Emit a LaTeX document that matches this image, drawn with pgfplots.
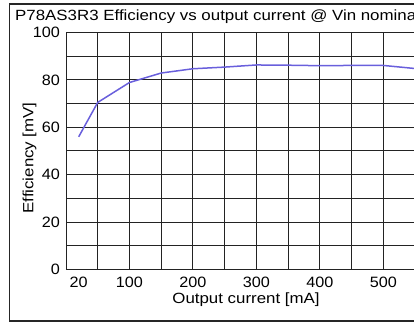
\documentclass[border=0pt]{standalone}
\usepackage{pgfplots}
\pgfplotsset{compat=1.18}
\usepackage{fontspec}
\setmainfont[FakeStretch=1.08]{Liberation Sans}
\newfontfamily\widefont[FakeStretch=1.14]{Liberation Sans}
\definecolor{curve}{RGB}{105,95,220}
\definecolor{gridc}{RGB}{35,35,35}
\begin{document}
\begin{tikzpicture}[x=1pt,y=1pt]
\useasboundingbox (0,0) rectangle (414,323);
\clip (0,0) rectangle (414,323);
\draw[line width=1.8pt, black!85] (9.5,2.3) rectangle (440,319);
\begin{axis}[
  scale only axis,
  at={(66pt,53.5pt)}, anchor=south west,
  width=355.4pt, height=237pt,
  xmin=0, xmax=560, ymin=0, ymax=100,
  xtick={20,100,200,300,400,500},
  ytick={0,20,40,60,80,100},
  minor xtick={50,100,...,550},
  minor ytick={10,30,50,70,90},
  xmajorgrids=false, xminorgrids=true,
  ymajorgrids=true, yminorgrids=true,
  major tick length=0pt, minor tick length=0pt,
  axis line style={gridc, line width=1pt},
  major grid style={gridc, line width=1pt},
  minor grid style={gridc, line width=1pt},
  /pgf/number format/assume math mode=true,
  tick label style={font=\fontsize{15}{17}\selectfont},
  yticklabel style={anchor=east, inner sep=0pt, xshift=-6pt},
  xticklabel style={anchor=north, inner sep=0pt, yshift=-7.5pt},
  xlabel={Output current [mA]},
  xlabel style={at={(axis description cs:0.5065,-0.1426)}, anchor=base, inner sep=0pt, font=\widefont\fontsize{14.8}{17}\selectfont},
  ylabel={Efficiency [mV]},
  ylabel style={at={(axis description cs:-0.092,0.4705)}, anchor=base, inner sep=0pt, font=\widefont\fontsize{14.8}{17}\selectfont},
  title={P78AS3R3 Efficiency vs output current @ Vin nominal},
  title style={at={(axis description cs:-0.1435,1.0245)}, anchor=base west, inner sep=0pt, font=\widefont\fontsize{14.8}{17}\selectfont},
  clip=false,
]
\addplot[curve, line width=1.5pt] coordinates {
(20,56.0) (50,70.5) (100,78.9) (150,82.9) (200,84.7) (250,85.4) (300,86.3) (350,86.2) (400,86.0) (450,86.1) (500,86.1) (550,84.8)
};
\end{axis}
\end{tikzpicture}
\end{document}
